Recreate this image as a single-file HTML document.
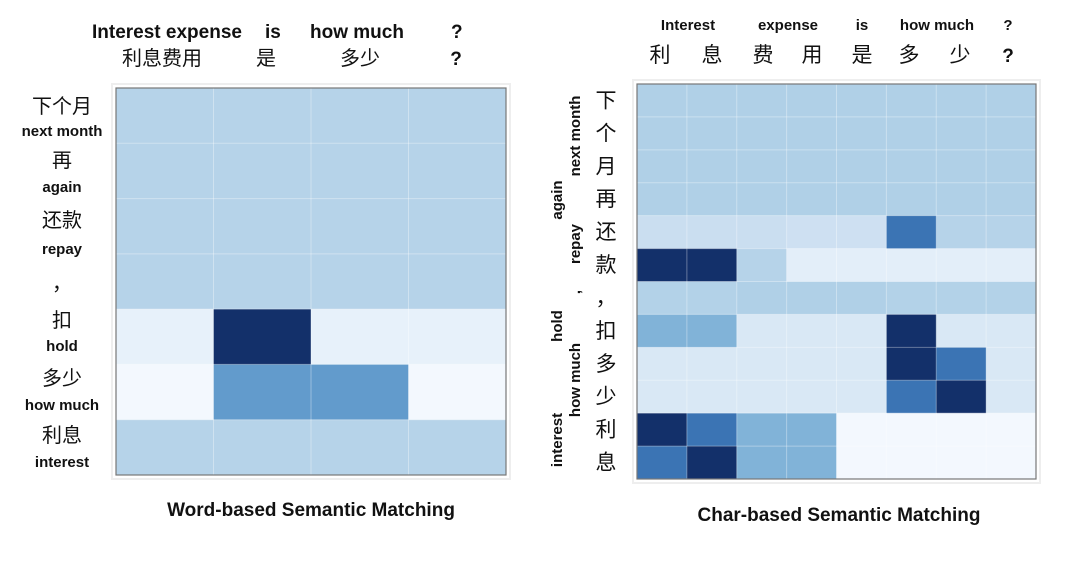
<!DOCTYPE html>
<html><head><meta charset="utf-8"><style>
body{margin:0;background:#fff;}
svg text{font-family:"Liberation Sans","Noto Sans CJK SC",sans-serif;}
.en{font-weight:bold;fill:#111;}
.zh{fill:#111;}
</style></head><body>
<svg id="chart" width="1080" height="568" viewBox="0 0 1080 568" xmlns="http://www.w3.org/2000/svg">
<g id="left"></g>
<g id="right"></g>
<g>
<text class="en" x="92" y="38" font-size="19">Interest expense</text>
<text class="en" x="265" y="38" font-size="19">is</text>
<text class="en" x="310" y="38" font-size="19">how much</text>
<text class="en" x="451" y="38" font-size="19">?</text>
<text class="zh" x="162" y="65" font-size="20" text-anchor="middle">利息费用</text>
<text class="zh" x="266" y="65" font-size="20" text-anchor="middle">是</text>
<text class="zh" x="360" y="65" font-size="20" text-anchor="middle">多少</text>
<text class="en" x="456" y="65" font-size="19" text-anchor="middle">?</text>
</g>
<g text-anchor="middle">
<text class="zh" x="62" y="113" font-size="20">下个月</text>
<text class="en" x="62" y="136" font-size="15">next month</text>
<text class="zh" x="62" y="167" font-size="20">再</text>
<text class="en" x="62" y="192" font-size="15">again</text>
<text class="zh" x="62" y="227" font-size="20">还款</text>
<text class="en" x="62" y="254" font-size="15">repay</text>
<text class="zh" x="62" y="290" font-size="20">，</text>
<text class="zh" x="62" y="327" font-size="20">扣</text>
<text class="en" x="62" y="351" font-size="15">hold</text>
<text class="zh" x="62" y="385" font-size="20">多少</text>
<text class="en" x="62" y="410" font-size="15">how much</text>
<text class="zh" x="62" y="442" font-size="20">利息</text>
<text class="en" x="62" y="467" font-size="15">interest</text>
</g>
<g text-anchor="middle">
<text class="en" x="688" y="30" font-size="15">Interest</text>
<text class="en" x="788" y="30" font-size="15">expense</text>
<text class="en" x="862" y="30" font-size="15">is</text>
<text class="en" x="937" y="30" font-size="15">how much</text>
<text class="en" x="1008" y="30" font-size="15">?</text>
<text class="zh" x="660" y="62" font-size="21">利</text>
<text class="zh" x="712" y="62" font-size="21">息</text>
<text class="zh" x="763" y="62" font-size="21">费</text>
<text class="zh" x="812" y="62" font-size="21">用</text>
<text class="zh" x="862" y="62" font-size="21">是</text>
<text class="zh" x="909" y="62" font-size="21">多</text>
<text class="zh" x="960" y="62" font-size="21">少</text>
<text class="en" x="1008" y="62" font-size="19">?</text>
</g>
<g id="rlab" text-anchor="middle">
<text class="en" font-size="15" transform="translate(580,136) rotate(-90)">next month</text>
<text class="en" font-size="15" transform="translate(562,200) rotate(-90)">again</text>
<text class="en" font-size="15" transform="translate(580,244) rotate(-90)">repay</text>
<text class="en" font-size="15" transform="translate(580,292) rotate(-90)">,</text>
<text class="en" font-size="15" transform="translate(562,326) rotate(-90)">hold</text>
<text class="en" font-size="15" transform="translate(580,380) rotate(-90)">how much</text>
<text class="en" font-size="15" transform="translate(562,440) rotate(-90)">interest</text>
</g>
<text class="en" x="311" y="516" font-size="19" text-anchor="middle">Word-based Semantic Matching</text>
<text class="en" x="839" y="521" font-size="19" text-anchor="middle">Char-based Semantic Matching</text>
</svg>
<script>
const leftRows = ['下个月','再','还款','，','扣','多少','利息'];
const leftCols = ['利息费用','是','多少','?'];
const leftValues = [
 [0.3,0.3,0.3,0.3],
 [0.3,0.3,0.3,0.3],
 [0.3,0.3,0.3,0.3],
 [0.3,0.3,0.3,0.3],
 [0.08,1.0,0.08,0.08],
 [0.02,0.55,0.55,0.02],
 [0.3,0.3,0.3,0.3]
];
const rightRows = ['下','个','月','再','还','款','，','扣','多','少','利','息'];
const rightCols = ['利','息','费','用','是','多','少','?'];
const rightValues = [
 [0.32,0.32,0.32,0.32,0.32,0.32,0.32,0.32],
 [0.32,0.32,0.32,0.32,0.32,0.32,0.32,0.32],
 [0.32,0.32,0.32,0.32,0.32,0.32,0.32,0.32],
 [0.32,0.32,0.32,0.32,0.32,0.32,0.32,0.32],
 [0.23,0.23,0.23,0.21,0.21,0.75,0.3,0.3],
 [1,1,0.3,0.1,0.1,0.1,0.1,0.1],
 [0.31,0.31,0.32,0.32,0.32,0.31,0.31,0.31],
 [0.45,0.45,0.15,0.15,0.15,1,0.15,0.15],
 [0.15,0.15,0.15,0.15,0.15,1,0.75,0.15],
 [0.15,0.15,0.15,0.15,0.15,0.75,1,0.15],
 [1,0.75,0.45,0.45,0.02,0.02,0.02,0.02],
 [0.75,1,0.45,0.45,0.02,0.02,0.02,0.02]
];
const stops=[[247,251,255],[222,235,247],[198,219,239],[158,200,225],[110,165,210],[80,140,195],[59,116,180],[30,75,140],[19,48,106]];
function blues(v){v=Math.max(0,Math.min(1,v))*(stops.length-1);const i=Math.min(Math.floor(v),stops.length-2),t=v-i;
 const c=stops[i].map((a,k)=>Math.round(a+(stops[i+1][k]-a)*t));return `rgb(${c})`;}
const NS='http://www.w3.org/2000/svg';
function draw(gid,rows,cols,vals,x0,y0,x1,y1,name){
 const g=document.getElementById(gid);
 const cw=(x1-x0)/cols.length, rh=(y1-y0)/rows.length;
 const xS=j=>x0+j*cw, yS=i=>y0+i*rh;
 const frame=document.createElementNS(NS,'rect');
 frame.setAttribute('x',x0-4);frame.setAttribute('y',y0-4);frame.setAttribute('width',x1-x0+8);frame.setAttribute('height',y1-y0+8);
 frame.setAttribute('fill','none');frame.setAttribute('stroke','#eee');frame.setAttribute('stroke-width','2');
 
 
 g.appendChild(frame);
 vals.forEach((row,i)=>row.forEach((v,j)=>{
  const r=document.createElementNS(NS,'rect');
  r.setAttribute('x',xS(j));r.setAttribute('y',yS(i));r.setAttribute('width',cw+0.5);r.setAttribute('height',rh+0.5);
  r.setAttribute('fill',blues(v));
  
  
  g.appendChild(r);
 }));
 for(let j=1;j<cols.length;j++){const l=document.createElementNS(NS,'line');
  l.setAttribute('x1',xS(j));l.setAttribute('x2',xS(j));l.setAttribute('y1',y0);l.setAttribute('y2',y1);
  l.setAttribute('stroke','rgba(255,255,255,0.35)');l.setAttribute('stroke-width','1');
  
  
  g.appendChild(l);}
 for(let i=1;i<rows.length;i++){const l=document.createElementNS(NS,'line');
  l.setAttribute('x1',x0);l.setAttribute('x2',x1);l.setAttribute('y1',yS(i));l.setAttribute('y2',yS(i));
  l.setAttribute('stroke','rgba(255,255,255,0.35)');l.setAttribute('stroke-width','1');
  
  
  g.appendChild(l);}
 const b=document.createElementNS(NS,'rect');
 b.setAttribute('x',x0);b.setAttribute('y',y0);b.setAttribute('width',x1-x0);b.setAttribute('height',y1-y0);
 b.setAttribute('fill','none');b.setAttribute('stroke','#777');b.setAttribute('stroke-width','1.2');
 
 
 g.appendChild(b);
}
draw('left',leftRows,leftCols,leftValues,116,88,506,475,'word-heatmap');
draw('right',rightRows,rightCols,rightValues,637,84,1036,479,'char-heatmap');
const rl=document.getElementById('rlab');
rightRows.forEach((c,i)=>{const t=document.createElementNS(NS,'text');
 t.setAttribute('x',606);t.setAttribute('y',84+(i+0.5)*(395/12)+7);t.setAttribute('font-size','21');t.setAttribute('class','zh');
 t.textContent=c;
 
 
 rl.appendChild(t);});
</script>
</body></html>
